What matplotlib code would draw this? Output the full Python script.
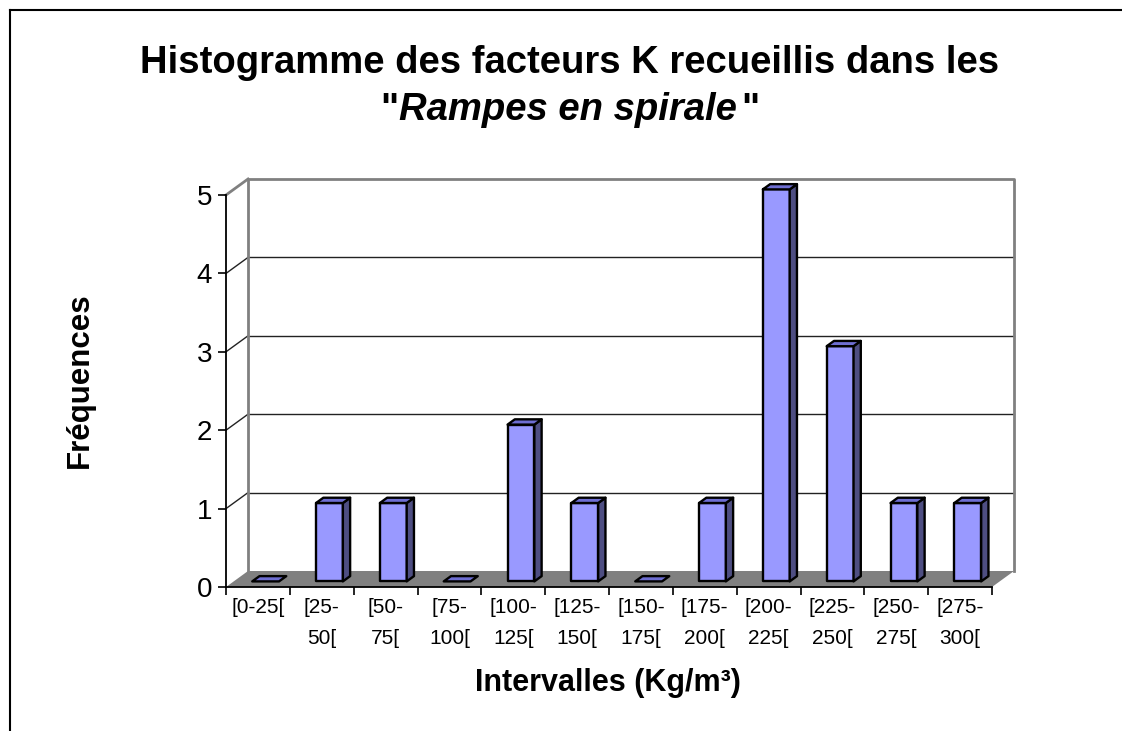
import matplotlib
matplotlib.use('Agg')
import matplotlib.pyplot as plt
from matplotlib.lines import Line2D

plt.rcParams['font.family'] = ['Liberation Sans', 'DejaVu Sans']

# données
intervalles = ['[0-25[', '[25-\n50[', '[50-\n75[', '[75-\n100[', '[100-\n125[', '[125-\n150[',
               '[150-\n175[', '[175-\n200[', '[200-\n225[', '[225-\n250[', '[250-\n275[', '[275-\n300[']
frequences = [0, 1, 1, 0, 2, 1, 0, 1, 5, 3, 1, 1]
graduations_y = [0, 1, 2, 3, 4, 5]

W, H = 1122, 731
fig = plt.figure(figsize=(W / 100, H / 100), dpi=100)
fig.patch.set_facecolor('white')

# axes = plan avant du graphique 3D
ax = fig.add_axes([226 / W, (H - 587) / H, 766 / W, 392 / H])
n = len(frequences)
ymax = max(graduations_y)
ax.set_xlim(0, n)
ax.set_ylim(0, ymax)
for s in ax.spines.values():
    s.set_visible(False)
ax.patch.set_alpha(0)

# profondeur (en unités de données)
ddx, ddy = 0.345, 0.204
gris = '#808080'

# quadrillage du fond + mur gauche
for k in graduations_y[1:-1]:
    ax.plot([ddx, n + ddx], [k + ddy, k + ddy], color='#222222', lw=1.0, clip_on=False, zorder=1)
    ax.plot([0, ddx], [k, k + ddy], color='#222222', lw=1.0, clip_on=False, zorder=1)
# bord du mur du fond
ax.plot([ddx, ddx, n + ddx, n + ddx], [ddy, ymax + ddy, ymax + ddy, ddy],
        color=gris, lw=2, clip_on=False, zorder=1)
ax.plot([0, ddx], [ymax, ymax + ddy], color=gris, lw=2, clip_on=False, zorder=1)

# plancher gris
ax.fill([0, n, n + ddx, ddx], [0, 0, ddy, ddy], color=gris, lw=0, clip_on=False, zorder=2)

# barres 3D
t0, d, larg = 0.35, 0.33, 0.42
c_face, c_haut, c_cote = '#9999FF', '#6E6ED2', '#4E4E82'
for i, v in enumerate(frequences):
    x0 = i + 0.5 - larg / 2 + t0 * ddx
    x1 = x0 + larg
    y0 = t0 * ddy
    y1 = v + y0
    ox, oy = d * ddx, d * ddy
    kw = dict(edgecolor='black', lw=1.7, clip_on=False, zorder=3, joinstyle='round')
    if v > 0:
        ax.fill([x0, x1, x1, x0], [y0, y0, y1, y1], facecolor=c_face, **kw)
        ax.fill([x1, x1 + ox, x1 + ox, x1], [y0, y0 + oy, y1 + oy, y1], facecolor=c_cote, **kw)
    ax.fill([x0, x1, x1 + ox, x0 + ox], [y1, y1, y1 + oy, y1 + oy], facecolor=c_haut, **kw)

# axes avant
ax.plot([0, 0], [0, ymax], color='black', lw=1.3, clip_on=False, zorder=4)
ax.plot([0, n], [0, 0], color='black', lw=1.3, clip_on=False, zorder=4)

ax.set_yticks(graduations_y)
ax.set_yticklabels([str(g) for g in graduations_y])
ax.tick_params(axis='y', length=6, width=1.2, pad=4, labelsize=20, color='black')

ax.set_xticks([i + 0.5 for i in range(n)])
ax.set_xticklabels(intervalles, linespacing=1.8, va='top')
ax.set_xticks(range(n + 1), minor=True)
ax.tick_params(axis='x', which='major', length=0, pad=8, labelsize=15)
ax.tick_params(axis='x', which='minor', length=6, width=1.2, color='black')

# titres
fig.text(570 / W, 1 - 73 / H, 'Histogramme des facteurs K recueillis dans les',
         ha='center', va='baseline', fontsize=27.5, weight='bold')
yb = 1 - 120 / H
t = fig.text(568 / W, yb, 'Rampes en spirale', ha='center', va='baseline',
             fontsize=27.5, weight='bold', style='italic')
r = fig.canvas.get_renderer()
bb = t.get_window_extent(r)
fig.text(bb.x0 / W - 0.001, yb, '"', ha='right', va='baseline', fontsize=27.5, weight='bold')
fig.text(bb.x1 / W + 0.004, yb, '"', ha='left', va='baseline', fontsize=27.5, weight='bold')

fig.text(80 / W, 1 - 380 / H, 'Fréquences', rotation=90, ha='center', va='center',
         fontsize=22.5, weight='bold')
fig.text(608 / W, 1 - 683 / H, 'Intervalles (Kg/m³)', ha='center', va='center',
         fontsize=22, weight='bold')

# cadre extérieur
fig.add_artist(Line2D([10 / W, 10 / W], [0, 1 - 10 / H], transform=fig.transFigure, color='black', lw=1.5))
fig.add_artist(Line2D([10 / W, 1], [1 - 10 / H, 1 - 10 / H], transform=fig.transFigure, color='black', lw=1.5))

fig.savefig('out.png', dpi=100)
